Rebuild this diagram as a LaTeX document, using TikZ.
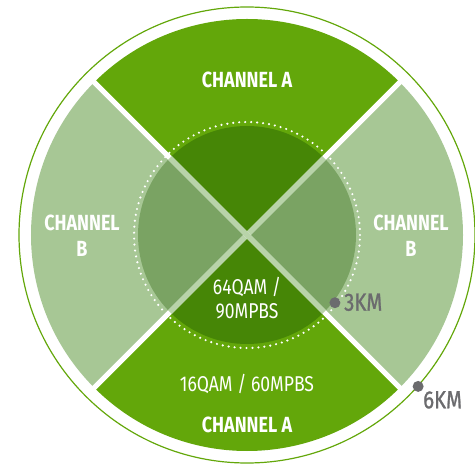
\documentclass[tikz,border=0pt]{standalone}
\usepackage{fontspec}
\setmainfont{Fira Sans}[FakeStretch=0.82]
\definecolor{chA}{HTML}{63A70A}
\definecolor{chB}{HTML}{A7C795}
\definecolor{inA}{HTML}{468606}
\definecolor{inB}{HTML}{7AA363}
\definecolor{sep}{HTML}{B8D3A9}
\definecolor{km}{HTML}{6B6B6E}
\begin{document}
\begin{tikzpicture}[x=1bp,y=1bp,lbl/.style={text=white,inner sep=0pt,anchor=base,font=\fontsize{21.5}{24}\selectfont},
 ch/.style={lbl,font=\fontsize{22}{24}\selectfont\bfseries},kmlbl/.style={lbl,text=km,anchor=base west,font=\fontsize{25}{28}\selectfont\addfontfeature{FakeBold=1}}]
\useasboundingbox (-247,-231) rectangle (228,235);
\draw[chA,line width=1.2] (0,0) circle (228);
% outer sectors
\fill[chA] (0,0) -- (45:216) arc (45:135:216) -- cycle;
\fill[chA] (0,0) -- (225:216) arc (225:315:216) -- cycle;
\fill[chB] (0,0) -- (135:216) arc (135:225:216) -- cycle;
\fill[chB] (0,0) -- (-45:216) arc (-45:45:216) -- cycle;
% inner circle
\fill[inA] (0,0) -- (45:109) arc (45:135:109) -- cycle;
\fill[inA] (0,0) -- (225:109) arc (225:315:109) -- cycle;
\fill[inB] (0,0) -- (135:109) arc (135:225:109) -- cycle;
\fill[inB] (0,0) -- (-45:109) arc (-45:45:109) -- cycle;
\foreach \a in {45,135} {
 \draw[white,line width=5] (\a:218) -- (\a+180:218);
 \draw[sep,line width=5] (\a:109) -- (\a+180:109);
}
\draw[white,line width=2.4,dash pattern=on 0pt off 6pt,line cap=round] (0,0) circle (113);
% labels
\node[ch] (atop) at (0,147.7) {CHANNEL A};
\node[ch] (abot) at (0,-197) {CHANNEL A};
\node[lbl] (rate16) at (0,-156.7) {16QAM / 60MPBS};
\node[lbl] (rate64) at (0,-60) {64QAM /};
\node[lbl] (mbps90) at (0,-84) {90MPBS};
\node[ch] (bleft) at (-165,4.3) {CHANNEL};
\node[ch] (bleftb) at (-165,-22) {B};
\node[ch] (bright) at (164,4.3) {CHANNEL};
\node[ch] (brightb) at (164,-22) {B};
% distances
\fill[km] (-37.6:111) circle (5.5) coordinate (d3);
\fill[km] (-41.5:228.5) circle (5.5) coordinate (d6);
\node[kmlbl] (k3) at (97,-75.7) {3KM};
\node[kmlbl] (k6) at (176,-173.3) {6KM};
\end{tikzpicture}
\end{document}
